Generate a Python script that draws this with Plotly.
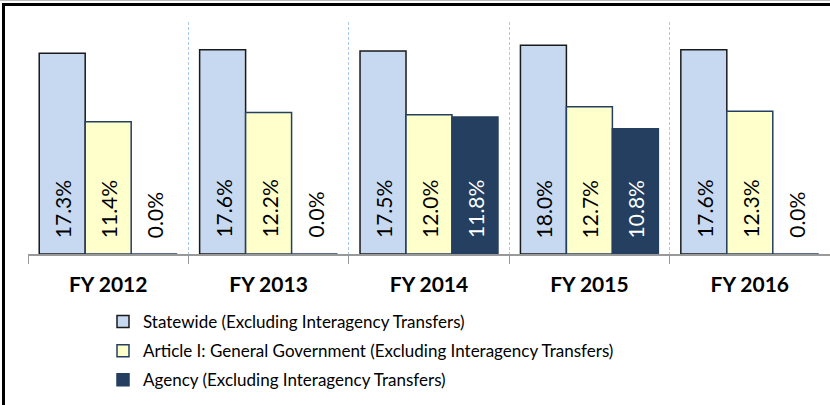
import plotly.graph_objects as go

categories = ["FY 2012", "FY 2013", "FY 2014", "FY 2015", "FY 2016"]
statewide = [17.3, 17.6, 17.5, 18.0, 17.6]
article1 = [11.4, 12.2, 12.0, 12.7, 12.3]
agency = [0.0, 0.0, 11.8, 10.8, 0.0]
series_names = [
    "Statewide (Excluding Interagency Transfers)",
    "Article I: General Government (Excluding Interagency Transfers)",
    "Agency (Excluding Interagency Transfers)",
]

W, H = 830, 405
ML, MR, MT, MB = 28, 0, 22, 151
FONT = "Lato"
BARGAP = 0.14

fills = ["#C6D9F0", "#FFFFCC", "#243F60"]
outlines = ["#1A1A1A", "#243F60", "#243F60"]
dark_fill = [False, False, True]
all_series = [statewide, article1, agency]

fig = go.Figure()
for i, (name, vals, fc, lc) in enumerate(zip(series_names, all_series, fills, outlines)):
    fig.add_trace(go.Bar(
        x=categories, y=vals, name=name, legendgroup=f"g{i}",
        marker=dict(color=fc, line=dict(color=lc, width=1.5)),
    ))

plot_w = W - ML - MR
plot_h = H - MT - MB
bar_px = plot_w / len(categories) * (1 - BARGAP) / 3
for si, vals in enumerate(all_series):
    for ci, v in enumerate(vals):
        col = "#FFFFFF" if (dark_fill[si] and v > 0) else "#000000"
        fig.add_annotation(
            x=categories[ci], y=0, xref="x", yref="y",
            text=f"{v:.1f}%", textangle=-90, showarrow=False,
            xanchor="center", yanchor="bottom",
            xshift=(si - 1) * bar_px, yshift=14,
            font=dict(family=FONT, size=21, color=col),
        )

# outer frame lines (top and left)
fig.add_shape(type="line", xref="paper", yref="paper",
              x0=-(ML - 3.5) / plot_w, x1=1.01,
              y0=1 + (MT - 4.5) / plot_h, y1=1 + (MT - 4.5) / plot_h,
              line=dict(color="black", width=3))
fig.add_shape(type="line", xref="paper", yref="paper",
              x0=-ML / plot_w, x1=1.01,
              y0=1 + (MT - 0.5) / plot_h, y1=1 + (MT - 0.5) / plot_h,
              line=dict(color="#BBBBBB", width=1))
fig.add_shape(type="line", xref="paper", yref="paper",
              x0=-(ML - 3.5) / plot_w, x1=-(ML - 3.5) / plot_w,
              y0=-MB / plot_h - 0.01, y1=1 + (MT - 3) / plot_h,
              line=dict(color="black", width=3))

fig.update_layout(
    width=W, height=H,
    margin=dict(l=ML, r=MR, t=MT, b=MB, pad=0),
    paper_bgcolor="white", plot_bgcolor="white",
    barmode="group", bargap=BARGAP, bargroupgap=0,
    font=dict(family=FONT, size=18, color="black"),
    showlegend=True,
    legend=dict(
        orientation="v", x=(103 - ML) / plot_w, xanchor="left",
        y=-50 / plot_h, yanchor="top",
        font=dict(family=FONT, size=17, color="black"),
        bgcolor="rgba(0,0,0,0)", traceorder="grouped", tracegroupgap=4,
    ),
    xaxis=dict(
        type="category", tickson="boundaries",
        showgrid=True, gridcolor="#A9C8EE", griddash="3px,2px", gridwidth=1,
        showline=True, linecolor="#999999", linewidth=2,
        ticks="outside", ticklen=8, tickcolor="#999999",
        tickfont=dict(family=FONT, size=21, color="black", weight="bold"),
        ticklabelstandoff=11,
        range=[-0.5, 4.5],
    ),
    yaxis=dict(
        range=[0, 20], showgrid=False, showticklabels=False,
        zeroline=False, showline=False, ticks="",
    ),
)

fig.write_html("out.html")
